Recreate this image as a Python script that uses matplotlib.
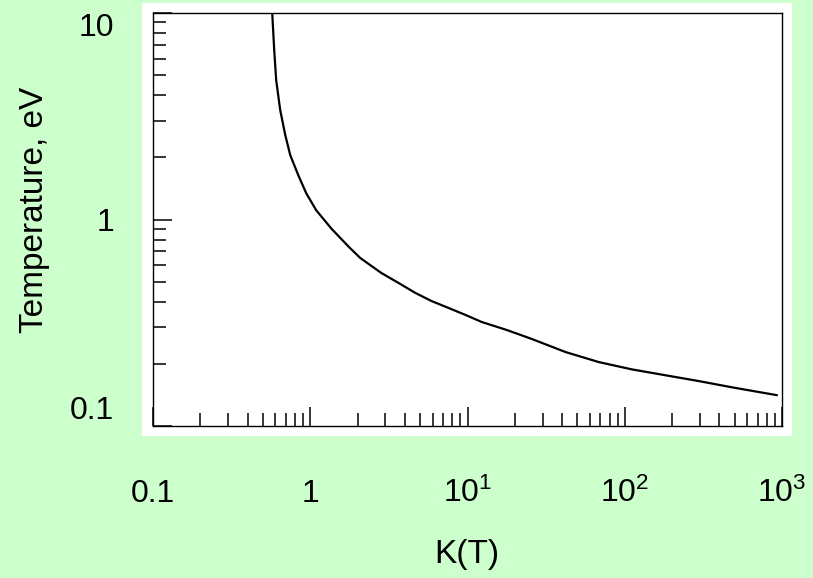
import matplotlib
matplotlib.use("Agg")
import matplotlib.pyplot as plt
import matplotlib.patches as patches
from matplotlib.ticker import FixedLocator, LogLocator, NullFormatter

plt.rcParams['font.family'] = ['Liberation Sans', 'DejaVu Sans']
plt.rcParams['mathtext.fontset'] = 'custom'
plt.rcParams['mathtext.rm'] = 'Liberation Sans'
plt.rcParams['mathtext.it'] = 'Liberation Sans'

# curve
k_values = [0.573, 0.590, 0.607, 0.644, 0.693, 0.746, 0.839, 0.943, 1.09, 1.36,
            1.75, 2.08, 2.83, 3.64, 4.66, 5.90, 7.57, 9.71, 12.3, 17.7,
            25.6, 42.1, 68.3, 111, 182, 296, 479, 929]
temperature = [10.0, 6.62, 4.74, 3.39, 2.57, 2.05, 1.64, 1.34, 1.11, 0.905,
               0.740, 0.651, 0.551, 0.493, 0.441, 0.403, 0.373, 0.345, 0.319, 0.292,
               0.264, 0.228, 0.204, 0.188, 0.176, 0.165, 0.154, 0.141]

x_ticks = [0.1, 1, 10, 100, 1000]
x_ticklabels = ['0.1', '1', '$10^1$', '$10^2$', '$10^3$']
y_ticks = [0.1, 1, 10]
y_ticklabels = ['0.1', '1', '10']

fig = plt.figure(figsize=(8.13, 5.78), dpi=100)
fig.patch.set_facecolor('#ccffcc')

# white "scan" area behind the axes
W, H = 813.0, 578.0
fig.patches.append(patches.Rectangle((142 / W, 1 - 436 / H), 650 / W, 433 / H,
                                     transform=fig.transFigure, facecolor='white',
                                     edgecolor='none', zorder=-5))

ax = fig.add_axes([153 / W, 1 - 426 / H, 629 / W, 413 / H])
ax.set_zorder(1)
ax.set_facecolor('white')
ax.plot(k_values, temperature, color='black', lw=1.6,
        solid_joinstyle='round', solid_capstyle='round')

ax.set_xscale('log')
ax.set_yscale('log')
ax.set_xlim(0.1, 1000)
ax.set_ylim(0.1, 10)

for s in ax.spines.values():
    s.set_linewidth(1.0)
    s.set_color('black')

ax.xaxis.set_major_locator(FixedLocator(x_ticks))
ax.xaxis.set_minor_locator(LogLocator(base=10, subs=range(2, 10)))
ax.xaxis.set_minor_formatter(NullFormatter())
ax.set_xticklabels(x_ticklabels)
ax.yaxis.set_major_locator(FixedLocator(y_ticks))
ax.yaxis.set_minor_locator(LogLocator(base=10, subs=range(2, 10)))
ax.yaxis.set_minor_formatter(NullFormatter())
ax.set_yticklabels(y_ticklabels)

ax.tick_params(which='both', direction='in', top=False, right=False,
               width=1.1, labelsize=23)
ax.tick_params(which='major', length=14)
ax.tick_params(which='minor', length=9.5)
ax.tick_params(axis='x', which='major', pad=55)
ax.tick_params(axis='y', which='major', pad=28)
for lab in ax.get_xticklabels():
    lab.set_verticalalignment('baseline')
# end labels sit inside the axis range, as on the slide
ylabs = ax.get_yticklabels()
ylabs[0].set_verticalalignment('bottom')
ylabs[-1].set_verticalalignment('top')

ax.set_xlabel('K(T)', fontsize=24)
ax.xaxis.set_label_coords(0.499, -0.312)
ax.xaxis.label.set_verticalalignment('center')
ax.set_ylabel('Temperature, eV', fontsize=24)
ax.yaxis.set_label_coords(-0.188, 0.523)
ax.yaxis.label.set_verticalalignment('center')

fig.savefig('out.png', dpi=100, facecolor=fig.get_facecolor())
